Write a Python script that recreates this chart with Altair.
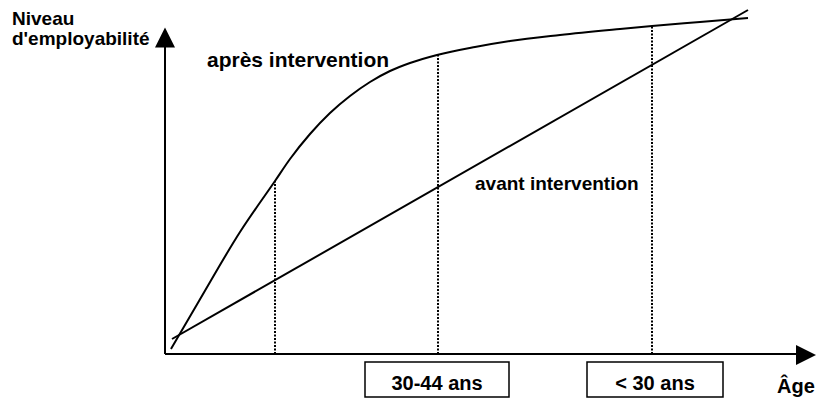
import altair as alt
import pandas as pd

# Curve "après intervention" (age-axis units, employability units)
apres_x = [6, 34, 75, 110, 125, 145, 165, 185, 205, 225, 245, 272, 310, 345, 395, 455, 487, 535, 583]
apres_y = [5, 53, 122, 173, 195, 220, 241, 258, 272, 283, 291, 299, 307, 313, 319, 325, 328, 332, 336]
# Straight line "avant intervention"
avant_x = [7, 583]
avant_y = [15, 344]
# Dotted markers
marker_x = [110, 273, 487]
marker_top = [173, 299, 328]
# Age group boxes
box_x = [200, 422]
box_x2 = [344, 558]
box_y = [-8, -8]
box_y2 = [-43, -43]
box_labels = ["30-44 ans", "< 30 ans"]
# Free labels
label_text = ["Niveau", "d'employabilité", "après intervention", "avant intervention", "Âge"]
label_x = [-153, -153, 42, 310, 612]
label_y = [329, 309, 287, 164, -39]
label_size = [19, 19, 21, 19, 20]

XS = alt.Scale(domain=[-157, 651], nice=False, zero=False)
YS = alt.Scale(domain=[-44, 346], nice=False, zero=False)
FONT = "Liberation Sans"

def X(f="x"):
    return alt.X(f"{f}:Q", scale=XS, axis=None)

def Y(f="y"):
    return alt.Y(f"{f}:Q", scale=YS, axis=None)

axes_df = pd.DataFrame({
    "axis": ["y", "y", "x", "x"],
    "x": [0, 0, 0, 640],
    "y": [0, 314, 0, 0],
    "o": [0, 1, 0, 1],
})
axes = alt.Chart(axes_df).mark_line(color="black", strokeWidth=2).encode(
    x=X(), y=Y(), detail="axis:N", order="o:Q")

arrow_up = alt.Chart(pd.DataFrame({"x": [0], "y": [316.5]})).mark_point(
    shape="M0,-1L1,1L-1,1Z", filled=True, size=400, color="black", opacity=1, strokeWidth=0
).encode(x=X(), y=Y())
arrow_right = alt.Chart(pd.DataFrame({"x": [641], "y": [-1]})).mark_point(
    shape="M1,0L-1,-1L-1,1Z", filled=True, size=400, color="black", opacity=1, strokeWidth=0
).encode(x=X(), y=Y())

markers_df = pd.DataFrame({"x": marker_x, "y": [0] * len(marker_x), "y2": marker_top})
markers = alt.Chart(markers_df).mark_rule(color="black", strokeWidth=2, strokeDash=[2, 1.5]).encode(
    x=X(), y=Y(), y2="y2:Q")

apres = alt.Chart(pd.DataFrame({"x": apres_x, "y": apres_y})).mark_line(
    color="black", strokeWidth=2, interpolate="monotone").encode(x=X(), y=Y())
avant = alt.Chart(pd.DataFrame({"x": avant_x, "y": avant_y})).mark_line(
    color="black", strokeWidth=2).encode(x=X(), y=Y())

boxes_df = pd.DataFrame({"x": box_x, "x2": box_x2, "y": box_y, "y2": box_y2, "label": box_labels,
                         "cx": [(a + b) / 2 for a, b in zip(box_x, box_x2)], "ty": [-36, -36]})
boxes = alt.Chart(boxes_df).mark_rect(fill="white", stroke="black", strokeWidth=1.5).encode(
    x=X(), x2="x2:Q", y=Y(), y2="y2:Q")
box_text = alt.Chart(boxes_df).mark_text(
    font=FONT, fontWeight="bold", fontSize=20, align="center", baseline="alphabetic", color="black"
).encode(x=X("cx"), y=Y("ty"), text="label:N")

labels = alt.Chart(pd.DataFrame({"x": label_x, "y": label_y, "t": label_text, "s": label_size})).mark_text(
    font=FONT, fontWeight="bold", align="left", baseline="alphabetic", color="black"
).encode(x=X(), y=Y(), text="t:N", size=alt.Size("s:Q", scale=None, legend=None))

chart = alt.layer(markers, axes, arrow_up, arrow_right, avant, apres, boxes, box_text, labels).properties(
    width=808, height=390, padding=0, autosize=alt.AutoSizeParams(type="none"), background="white"
).configure_view(stroke=None)

chart.save("out.html", embed_options={"renderer": "svg", "actions": False})
